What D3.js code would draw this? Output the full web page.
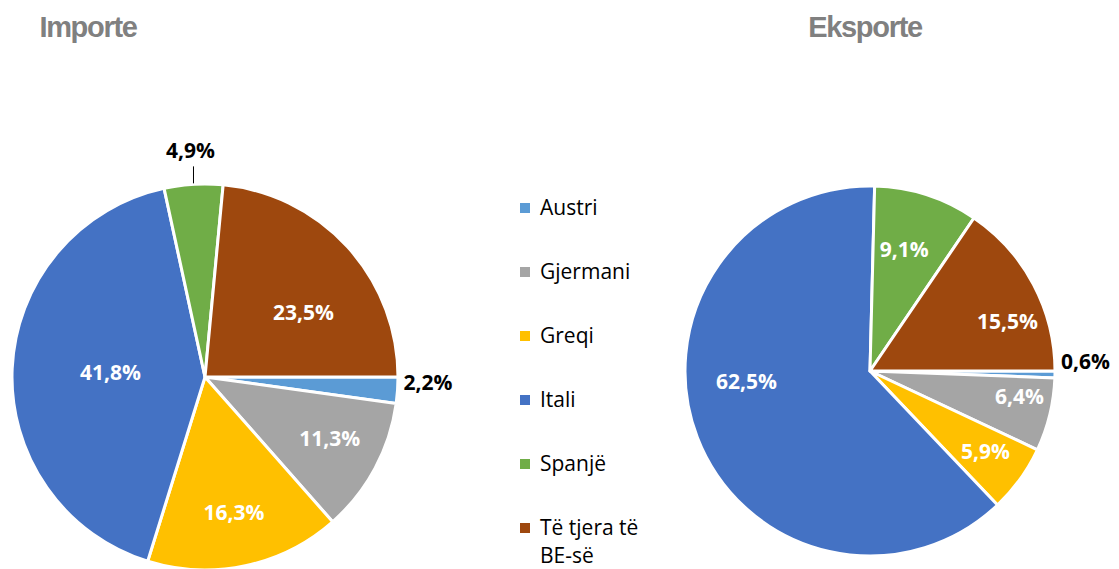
<!DOCTYPE html>
<html>
<head>
<meta charset="utf-8">
<script src="https://cdn.jsdelivr.net/npm/d3@7"></script>
<style>
  body { margin: 0; background: #fff; }
  svg { display: block; }
  .title { font-family: "Liberation Sans", Arial, sans-serif; font-weight: bold; fill: #808080; letter-spacing: -1.3px; }
  .pct { font-family: "Open Sans", "Noto Sans", sans-serif; font-weight: bold; font-size: 21px; }
  .legend text { font-family: "Open Sans", "Noto Sans", sans-serif; font-size: 21px; fill: #000; }
</style>
</head>
<body>
<svg id="chart"></svg>
<script>
// categories shared by both pies
var categories = ["Austri", "Gjermani", "Greqi", "Itali", "Spanjë", "Të tjera të BE-së"];
var legendLines = [["Austri"], ["Gjermani"], ["Greqi"], ["Itali"], ["Spanjë"], ["Të tjera të", "BE-së"]];
var colors = ["#5B9BD5", "#A5A5A5", "#FFC000", "#4472C4", "#70AD47", "#9E480E"];

// shares in percent
var importValues = [2.2, 11.3, 16.3, 41.8, 4.9, 23.5];
var exportValues = [0.6, 6.4, 5.9, 62.5, 9.1, 15.5];

var screen = {width:1119, height:569};

var svg = d3.select("#chart")
    .attr("width", screen.width)
    .attr("height", screen.height);

var colorScale = d3.scaleOrdinal()
    .domain(categories)
    .range(colors);

var fmt = function(v){ return d3.format(".1f")(v).replace(".", ","); };
var rad = Math.PI / 180;

var drawPie = function(values, title, opts){
    var g = svg.append("g")
        .attr("transform", "translate(" + opts.cx + "," + opts.cy + ")");

    var pie = d3.pie()
        .sort(null)
        .startAngle(Math.PI/2)
        .endAngle(Math.PI/2 + 2*Math.PI);

    var arc = d3.arc().innerRadius(0).outerRadius(opts.r);

    var data = pie(values).map(function(d, i){ d.cat = categories[i]; d.i = i; return d; });

    g.selectAll("path")
        .data(data)
        .enter()
        .append("path")
        .attr("d", arc)
        .attr("fill", function(d){ return colorScale(d.cat); })
        .attr("stroke", "#fff")
        .attr("stroke-width", 3)
        .attr("stroke-linejoin", "round");

    // labels (best-fit style, like the spreadsheet)
    data.forEach(function(d){
        var a = (d.startAngle + d.endAngle)/2;
        var txt = fmt(d.value) + "%";
        if (d.value < 5) {
            // outside label
            var s = Math.sin(a), c = -Math.cos(a);
            if (Math.abs(s) > 0.7) {
                g.append("text").classed("pct", true)
                    .attr("x", (opts.r + 6) * s)
                    .attr("y", (opts.r + 6) * c + opts.sideDy)
                    .attr("dy", "0.35em")
                    .attr("text-anchor", s > 0 ? "start" : "end")
                    .attr("fill", "#000")
                    .text(txt);
            } else {
                g.append("line")
                    .attr("x1", opts.r * s).attr("y1", (opts.r + 1) * c)
                    .attr("x2", opts.r * s).attr("y2", (opts.r + 18) * c)
                    .attr("stroke", "#000").attr("stroke-width", 1);
                g.append("text").classed("pct", true)
                    .attr("x", (opts.r + 16) * s - 2)
                    .attr("y", (opts.r + 26) * c)
                    .attr("text-anchor", "middle")
                    .attr("fill", "#000")
                    .text(txt);
            }
        } else {
            var f = opts.labelFrac[d.i];
            var la = a + opts.labelTurn[d.i] * rad;
            g.append("text").classed("pct", true)
                .attr("x", opts.r * f * Math.sin(la))
                .attr("y", -opts.r * f * Math.cos(la))
                .attr("dy", "0.35em")
                .attr("text-anchor", "middle")
                .attr("fill", "#fff")
                .text(txt);
        }
    });

    svg.append("text")
        .classed("title", true)
        .attr("x", opts.titleX)
        .attr("y", 37)
        .attr("text-anchor", "middle")
        .attr("font-size", 29)
        .text(title);
};

drawPie(importValues, "Importe", {
    cx:205, cy:377, r:193, sideDy:-8, titleX:88,
    labelFrac:[0, 0.72, 0.72, 0.49, 0, 0.61],
    labelTurn:[0, -2, 0, 0, 0, 9]
});
drawPie(exportValues, "Eksporte", {
    cx:870, cy:371, r:185, sideDy:-13, titleX:865,
    labelFrac:[0, 0.82, 0.76, 0.67, 0.68, 0.79],
    labelTurn:[0, -4, -1, 16, -2, 8]
});

// legend
var legend = svg.append("g")
    .classed("legend", true)
    .attr("transform", "translate(520,208)");

var entries = legend.selectAll("g")
    .data(categories)
    .enter()
    .append("g")
    .attr("transform", function(d, i){ return "translate(0," + i*64 + ")"; });

entries.append("rect")
    .attr("x", 0)
    .attr("y", -5)
    .attr("width", 10)
    .attr("height", 10)
    .attr("fill", function(d){ return colorScale(d); });

entries.append("text")
    .attr("x", 20)
    .attr("y", 7)
    .each(function(d, i){
        var t = d3.select(this);
        legendLines[i].forEach(function(line, j){
            t.append("tspan")
                .attr("x", 20)
                .attr("dy", j === 0 ? 0 : 28)
                .text(line);
        });
    });
</script>
</body>
</html>
